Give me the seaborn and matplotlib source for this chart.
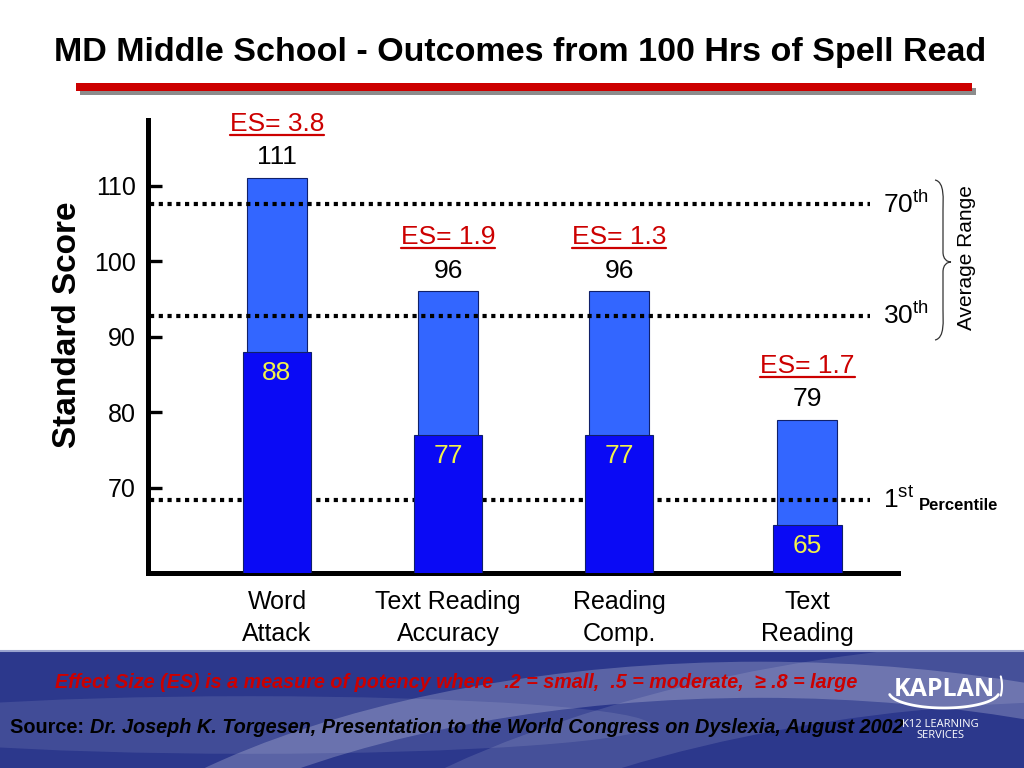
import matplotlib
matplotlib.use("Agg")
import matplotlib.pyplot as plt
import seaborn as sns
import pandas as pd
import numpy as np
from matplotlib.patches import Rectangle, Ellipse, PathPatch
from matplotlib.path import Path
from matplotlib.lines import Line2D

# ---------------- data ----------------
categories = ["Word\nAttack", "Text Reading\nAccuracy", "Reading\nComp.", "Text\nReading"]
positions = [0.0, 1.0, 2.0, 3.1]
pre_scores = [88, 77, 77, 65]
post_scores = [111, 96, 96, 79]
effect_sizes = ["3.8", "1.9", "1.3", "1.7"]
yticks = [70, 80, 90, 100, 110]
pct_levels = [107.6, 92.8, 68.4]
pct_labels = ["70", "30", "1"]
pct_sups = ["th", "th", "st"]

title = "MD Middle School - Outcomes from 100 Hrs of Spell Read"
es_note = "Effect Size (ES) is a measure of potency where  .2 = small,  .5 = moderate,  \u2265 .8 = large"
source_lbl = "Source: "
source_txt = "Dr. Joseph K. Torgesen, Presentation to the World Congress on Dyslexia, August 2002"

sns.set_theme(style="white")
plt.rcParams['font.family'] = ['Liberation Sans', 'DejaVu Sans']
plt.rcParams['mathtext.fontset'] = 'custom'
plt.rcParams['mathtext.rm'] = 'Liberation Sans'
plt.rcParams['text.color'] = 'black'
plt.rcParams['xtick.color'] = 'black'
plt.rcParams['ytick.color'] = 'black'

W, H = 1024, 768
fig = plt.figure(figsize=(W / 100, H / 100), dpi=100)
fig.patch.set_facecolor("white")

def fx(x):
    return x / W

def fy(y):
    return 1 - y / H

# ---------------- bottom band ----------------
band_top = 650
band = Rectangle((0, 0), 1, fy(band_top), transform=fig.transFigure,
                 facecolor="#2C388C", edgecolor="none", zorder=0)
fig.patches.append(band)
# swooshes
sw1 = Ellipse((fx(760), fy(1010)), fx(1500), 0.86, angle=0, transform=fig.transFigure,
              facecolor="none", edgecolor="white", lw=26, alpha=0.22, zorder=0.5)
sw1.set_clip_path(band)
fig.patches.append(sw1)
sw2 = Ellipse((fx(1100), fy(1150)), fx(1900), 1.25, angle=0, transform=fig.transFigure,
              facecolor="none", edgecolor="white", lw=45, alpha=0.12, zorder=0.5)
sw2.set_clip_path(band)
fig.patches.append(sw2)
sw3 = Ellipse((fx(250), fy(725)), fx(800), 0.075, angle=0, transform=fig.transFigure,
              facecolor="white", edgecolor="none", alpha=0.10, zorder=0.5)
sw3.set_clip_path(band)
fig.patches.append(sw3)
fig.add_artist(Line2D([0, 1], [fy(band_top + 1), fy(band_top + 1)], transform=fig.transFigure,
                      color="#9AA3CF", lw=1.5, zorder=1))

# ---------------- axes ----------------
ax = fig.add_axes([fx(148), fy(573), fx(898 - 148), fy(120) - fy(573)])
ax.set_facecolor("none")

df_post = pd.DataFrame({"pos": positions, "score": post_scores})
df_pre = pd.DataFrame({"pos": positions, "score": pre_scores})

sns.barplot(data=df_post, x="pos", y="score", native_scale=True, width=0.35,
            color="#3366FF", saturation=1, errorbar=None, ax=ax,
            edgecolor="#10206A", linewidth=0.8, zorder=1)
for lvl in pct_levels:
    ax.axhline(lvl, xmin=0.003, xmax=0.963, color="black", lw=3.0,
               ls=(0, (1.0, 1.1)), zorder=2)
sns.barplot(data=df_pre, x="pos", y="score", native_scale=True, width=0.40,
            color="#0A0AF5", saturation=1, errorbar=None, ax=ax,
            edgecolor="#10206A", linewidth=0.8, zorder=3)

ax.set_xlim(-0.754, 3.63)
ax.set_ylim(58.7, 118.7)
ax.set_xticks(positions)
ax.set_xticklabels(categories, fontsize=18, linespacing=1.45)
ax.set_yticks(yticks)
ax.set_yticklabels([str(t) for t in yticks], fontsize=18)
ax.set_xlabel("")
ax.set_ylabel("")
ax.tick_params(axis="y", direction="in", length=10, width=2.4, color="black", pad=9, left=True,
               labelcolor="black")
ax.tick_params(axis="x", length=0, pad=12, labelcolor="black")
for s in ["top", "right"]:
    ax.spines[s].set_visible(False)
for s in ["left", "bottom"]:
    ax.spines[s].set_visible(True)
    ax.spines[s].set_color("black")
    ax.spines[s].set_linewidth(3.6)
ax.grid(False)

# value labels
es_texts = []
for x, pre, post, es in zip(positions, pre_scores, post_scores, effect_sizes):
    ax.annotate(str(post), (x, post), xytext=(0, 15), textcoords="offset points",
                ha="center", va="center", fontsize=19, color="black", zorder=5)
    t = ax.annotate("ES= " + es, (x, post), xytext=(0, 39), textcoords="offset points",
                    ha="center", va="center", fontsize=19, color="#CC0000", zorder=5)
    es_texts.append(t)
    ax.annotate(str(pre), (x, pre), xytext=(0, -15), textcoords="offset points",
                ha="center", va="center", fontsize=19, color="#F2F24A", zorder=5)

# percentile labels
for lvl, lab, sup in zip(pct_levels, pct_labels, pct_sups):
    ax.text(0.98, lvl, lab + r"$^{\mathrm{" + sup + "}}$", transform=ax.get_yaxis_transform(),
            ha="left", va="center", fontsize=19, color="black", clip_on=False)
fig.text(fx(919), fy(505), "Percentile", fontsize=12, fontweight="bold", ha="left", va="center")

# y label
fig.text(fx(68), fy(325), "Standard Score", rotation=90, fontsize=24, fontweight="bold",
         ha="center", va="center")

# brace for average range
bx, btop, bbot, bmid = 935, 180, 340, 262
verts = [(fx(bx), fy(btop)),
         (fx(bx + 10), fy(btop + 2)), (fx(bx + 8), fy(btop + 20)), (fx(bx + 8), fy(btop + 30)),
         (fx(bx + 8), fy(bmid - 10)),
         (fx(bx + 8), fy(bmid - 3)), (fx(bx + 12), fy(bmid)), (fx(bx + 16), fy(bmid)),
         (fx(bx + 12), fy(bmid)), (fx(bx + 8), fy(bmid + 3)), (fx(bx + 8), fy(bmid + 10)),
         (fx(bx + 8), fy(bbot - 30)),
         (fx(bx + 8), fy(bbot - 20)), (fx(bx + 10), fy(bbot - 2)), (fx(bx), fy(bbot))]
codes = [Path.MOVETO,
         Path.CURVE4, Path.CURVE4, Path.CURVE4,
         Path.LINETO,
         Path.CURVE4, Path.CURVE4, Path.CURVE4,
         Path.CURVE4, Path.CURVE4, Path.CURVE4,
         Path.LINETO,
         Path.CURVE4, Path.CURVE4, Path.CURVE4]
brace = PathPatch(Path(verts, codes), transform=fig.transFigure, facecolor="none",
                  edgecolor="#333333", lw=0.9)
fig.patches.append(brace)
fig.text(fx(967), fy(258), "Average Range", rotation=90, fontsize=15, ha="center", va="center")

# title & red rule
fig.text(fx(520), fy(52), title, fontsize=24.5, fontweight="bold", ha="center", va="center",
         color="black")
fig.patches.append(Rectangle((fx(80), fy(95)), fx(972 - 76), fy(88) - fy(95), transform=fig.transFigure,
                             facecolor="#8C8C8C", edgecolor="none", zorder=1))
fig.patches.append(Rectangle((fx(76), fy(91)), fx(972 - 76), fy(83) - fy(91), transform=fig.transFigure,
                             facecolor="#CC0000", edgecolor="none", zorder=2))

# bottom texts
fig.text(fx(456), fy(683), es_note, fontsize=14.2, fontweight="bold", style="italic",
         color="#CC0000", ha="center", va="center")
st = fig.text(fx(10), fy(733), source_lbl, fontsize=14.3, fontweight="bold", color="black",
              ha="left", va="baseline")
fig.canvas.draw()
r = fig.canvas.get_renderer()
bb = st.get_window_extent(r)
fig.text(bb.x1 / W, fy(733), source_txt, fontsize=14.3, fontweight="bold", style="italic",
         color="black", ha="left", va="baseline", zorder=3)

# Kaplan logo
fig.text(fx(944), fy(690), "KAPLAN", fontsize=18, color="white", ha="center", va="center",
         fontweight="bold", family=["Open Sans", "DejaVu Sans"])
theta = np.linspace(np.pi * 1.05, np.pi * 1.95, 60)
lx = 944 + 55 * np.cos(theta)
ly = 692 - 16 * np.sin(theta)
fig.add_artist(Line2D(lx / W, 1 - ly / H, transform=fig.transFigure, color="white", lw=2))
theta2 = np.linspace(-0.5, 0.5, 30)
fig.add_artist(Line2D((992 + 10 * np.cos(theta2)) / W, 1 - (686 + 20 * np.sin(theta2)) / H,
                      transform=fig.transFigure, color="white", lw=1.5))
fig.text(fx(940), fy(730), "K12 LEARNING\nSERVICES", fontsize=8, color="white", ha="center",
         va="center", linespacing=1.1, family=["Open Sans", "DejaVu Sans"])

# underline ES labels
fig.canvas.draw()
for t in es_texts:
    b = t.get_window_extent(r)
    yline = b.y0 + 1
    fig.add_artist(Line2D([b.x0 / W, b.x1 / W], [yline / H, yline / H], transform=fig.transFigure,
                          color="#CC0000", lw=1.6))

fig.savefig("out.png", dpi=100)
